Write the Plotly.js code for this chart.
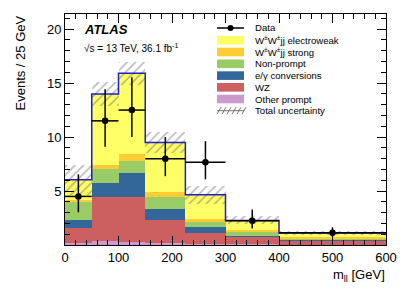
<!DOCTYPE html>
<html>
<head>
<meta charset="utf-8">
<script src="https://cdn.plot.ly/plotly-3.0.1.min.js"></script>
<style>html,body{margin:0;padding:0;background:#fff;}#plot{width:407px;height:292px;}</style>
</head>
<body>
<div id="plot"></div>
<script>
// ---- data ----
const binEdges = [0, 50, 100, 150, 225, 300, 400, 600];
const otherPrompt = [0.20, 0.35, 0.30, 0.15, 0.10, 0.05, 0.03];
const wz          = [1.37, 4.09, 4.14, 2.19, 1.01, 0.69, 0.32];
const conversions = [0.77, 1.26, 2.23, 0.99, 0.52, 0.12, 0.07];
const nonPrompt   = [1.66, 1.34, 1.13, 1.08, 0.46, 0.31, 0.10];
const wwStrong    = [0.20, 0.39, 0.60, 0.49, 0.31, 0.25, 0.26];
const wwEW        = [1.85, 6.57, 7.50, 4.60, 2.26, 0.86, 0.33];
const totalUnc    = [1.40, 1.10, 1.10, 1.00, 0.83, 0.37, 0.15];
const dataY       = [4.50, 11.50, 12.50, 8.00, 7.67, 2.25, 1.13];
const dataErrUp   = [2.05, 2.93, 3.04, 2.00, 1.95, 1.03, 0.51];
const dataErrDown = [1.47, 2.39, 2.49, 1.62, 1.59, 0.73, 0.37];
const xTickVals = [0, 100, 200, 300, 400, 500, 600];
const xTickText = ['0', '100', '200', '300', '400', '500', '600'];
const yTickVals = [5, 10, 15, 20];
const yTickText = ['5', '10', '15', '20'];
const legendLabels = ['Data', 'W<sup>±</sup>W<sup>±</sup>jj electroweak', 'W<sup>±</sup>W<sup>±</sup>jj strong',
  'Non-prompt', 'e/γ conversions', 'WZ', 'Other prompt', 'Total uncertainty'];

// ---- styles ----
const colors = {other:'#cc99cc', wz:'#cc5f5f', conv:'#336699', np:'#99cc66', strong:'#ffcc33', ew:'#ffff66'};
const FONT = 'Liberation Sans, Arial, Helvetica, sans-serif';

const centers = [], widths = [], halfW = [];
for (let i = 0; i < binEdges.length - 1; i++) {
  centers.push((binEdges[i] + binEdges[i+1]) / 2);
  widths.push(binEdges[i+1] - binEdges[i]);
  halfW.push((binEdges[i+1] - binEdges[i]) / 2);
}

const stack = [
  {vals: otherPrompt, color: colors.other},
  {vals: wz, color: colors.wz},
  {vals: conversions, color: colors.conv},
  {vals: nonPrompt, color: colors.np},
  {vals: wwStrong, color: colors.strong},
  {vals: wwEW, color: colors.ew}
];
const traces = [];
let cum = centers.map(() => 0);
stack.forEach(s => {
  traces.push({type:'bar', x:centers, y:s.vals, base:cum.slice(), width:widths,
    marker:{color:s.color, line:{width:0}}, showlegend:false, hoverinfo:'skip'});
  cum = cum.map((c, i) => c + s.vals[i]);
});
const total = cum;

// uncertainty hatch
traces.push({type:'bar', x:centers, y:totalUnc.map(u => 2*u), base:total.map((t,i) => t - totalUnc[i]),
  width:widths, showlegend:false, hoverinfo:'skip',
  marker:{color:'rgba(0,0,0,0)', line:{width:0},
    pattern:{shape:'/', fgcolor:'#6a6a6a', bgcolor:'rgba(0,0,0,0)', size:6, solidity:0.25, fillmode:'overlay'}}});

// total outline
traces.push({type:'scatter', mode:'lines', x:binEdges, y:total.concat([total[total.length-1]]),
  line:{shape:'hv', color:'#1f1fbf', width:1.5}, showlegend:false, hoverinfo:'skip'});

// data
traces.push({type:'scatter', mode:'markers', x:centers, y:dataY,
  marker:{color:'black', size:6.5},
  error_x:{type:'data', array:halfW, color:'black', thickness:1.5, width:0},
  error_y:{type:'data', symmetric:false, array:dataErrUp, arrayminus:dataErrDown, color:'black', thickness:1.5, width:0},
  showlegend:false});

// ---- manual legend (pixel -> paper) ----
const L = 65, R = 21, T = 14, B = 47, W = 407, H = 292;
const pw = W - L - R, ph = H - T - B;
const px = v => (v - L) / pw;
const py = v => (H - B - v) / ph;

const shapes = [];
const annotations = [];
const rowY = [28, 40.3, 52, 63.8, 75.6, 87.3, 99, 110.7];
const symX0 = 217, symX1 = 244, txtX = 253;
// data symbol
shapes.push({type:'line', xref:'paper', yref:'paper', x0:px(symX0), x1:px(symX1), y0:py(rowY[0]), y1:py(rowY[0]), line:{color:'black', width:1.5}});
shapes.push({type:'circle', xref:'paper', yref:'paper', x0:px(230.5-3), x1:px(230.5+3), y0:py(rowY[0]+3), y1:py(rowY[0]-3), fillcolor:'black', line:{color:'black', width:0}});
const legColors = [colors.ew, colors.strong, colors.np, colors.conv, colors.wz, colors.other];
legColors.forEach((c, k) => {
  const yc = rowY[k+1];
  shapes.push({type:'rect', xref:'paper', yref:'paper', x0:px(symX0), x1:px(symX1), y0:py(yc+4.3), y1:py(yc-4.3), fillcolor:c, line:{width:0}});
});
// hatch symbol
const hy = rowY[7];
shapes.push({type:'line', xref:'paper', yref:'paper', x0:px(symX0), x1:px(symX1), y0:py(hy), y1:py(hy), line:{color:'#777', width:1}});
for (let k = 0; k < 6; k++) {
  const x0 = symX0 + k*5;
  shapes.push({type:'line', xref:'paper', yref:'paper', x0:px(x0), x1:px(x0+4), y0:py(hy+3.5), y1:py(hy-3.5), line:{color:'#777', width:1}});
}
legendLabels.forEach((t, k) => {
  annotations.push({xref:'paper', yref:'paper', x:px(txtX), y:py(rowY[k]), xanchor:'left', yanchor:'middle',
    text:t, showarrow:false, font:{family:FONT, size:9.6, color:'black'}});
});

// ATLAS labels
annotations.push({xref:'paper', yref:'paper', x:px(82), y:py(30), xanchor:'left', yanchor:'middle',
  text:'<b><i>ATLAS</i></b>', showarrow:false, font:{family:FONT, size:13, color:'black'}});
annotations.push({xref:'paper', yref:'paper', x:px(82), y:py(48), xanchor:'left', yanchor:'middle',
  text:'√s = 13 TeV, 36.1 fb<sup>-1</sup>', showarrow:false, font:{family:FONT, size:10, color:'black'}});
// axis titles
annotations.push({xref:'paper', yref:'paper', x:px(20), y:py(14), xanchor:'center', yanchor:'top', textangle:-90,
  text:'Events / 25 GeV', showarrow:false, font:{family:FONT, size:13, color:'black'}});
annotations.push({xref:'paper', yref:'paper', x:px(387), y:py(275), xanchor:'right', yanchor:'middle',
  text:'m<sub>ll</sub> [GeV]', showarrow:false, font:{family:FONT, size:13, color:'black'}});

const axisCommon = {showline:true, linecolor:'black', linewidth:1, mirror:'allticks', ticks:'inside',
  tickcolor:'black', tickwidth:1, showgrid:false, zeroline:false, tickfont:{family:FONT, size:13, color:'black'}};

const layout = {
  width: W, height: H,
  margin: {l:L, r:R, t:T, b:B, pad:0},
  paper_bgcolor:'white', plot_bgcolor:'white',
  barmode:'overlay', bargap:0, showlegend:false,
  xaxis: Object.assign({}, axisCommon, {range:[0,600], tickmode:'array', tickvals:xTickVals, ticktext:xTickText, ticklen:9,
    minor:{dtick:20, ticklen:5, ticks:'inside', tickcolor:'black', showgrid:false}}),
  yaxis: Object.assign({}, axisCommon, {range:[0,21.4], tickmode:'array', tickvals:yTickVals, ticktext:yTickText, ticklen:9,
    minor:{dtick:1, ticklen:5, ticks:'inside', tickcolor:'black', showgrid:false}}),
  shapes: shapes,
  annotations: annotations
};

Plotly.newPlot('plot', traces, layout, {staticPlot:true, displayModeBar:false});
</script>
</body>
</html>
